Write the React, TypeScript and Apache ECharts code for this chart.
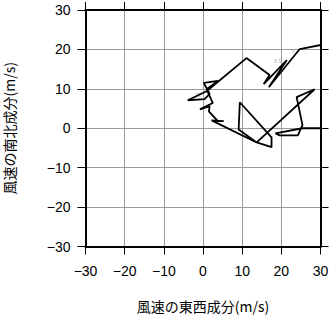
import React, { useEffect, useRef } from "react";
import * as echarts from "echarts";

// Hodograph: wind components (u = east-west, v = north-south), m/s
const uValues = [33.6, 24.7, 16.8, 21.4, 15.5, 17.0, 11.1, 0.9, -3.9, 0.4, 1.7, 0.2, 3.8, 0.9, 2.5, -0.8, 1.7, 1.5, 3.8, 5.3, 2.2, 13.7, 9.1, 9.4, 17.5, 17.5, 13.7, 28.5, 23.9, 25.4, 24.2, 19.6, 18.5, 25.4, 33.6];
const vValues = [21.8, 20.1, 10.4, 17.3, 11.2, 13.5, 17.8, 9.4, 7.1, 7.4, 8.7, 11.5, 12.0, 9.9, 6.4, 4.8, 5.6, 4.3, 1.8, 1.8, 2.0, -3.6, -0.3, 6.6, -2.3, -4.8, -3.6, 9.9, 7.9, 0.8, -1.8, -1.8, -1.3, 0.0, 0.0];

const heightLabels = ["8.5", "9", "20"];
const heightLabelU = [19.1, 23.1, -1.4];
const heightLabelV = [17.0, 19.6, 8.4];

const axisMin = -30;
const axisMax = 30;
const axisStep = 10;
const xName = "風速の東西成分(m/s)";
const yName = "風速の南北成分(m/s)";

const fmt = (v: number) => String(v).replace("-", "\u2212");

export default function App() {
  const ref = useRef<HTMLDivElement>(null);
  useEffect(() => {
    if (!ref.current) return;
    const chart = echarts.init(ref.current, undefined, { renderer: "svg" });
    const labelFont = "'Liberation Sans', Arial, sans-serif";
    const nameFont = "'Noto Sans CJK JP', 'Liberation Sans', sans-serif";
    const mainAxis = (isX: boolean) => ({
      type: "value" as const,
      min: axisMin,
      max: axisMax,
      interval: axisStep,
      position: isX ? "bottom" : "left",
      name: isX ? xName : yName,
      nameLocation: "middle" as const,
      nameGap: isX ? 52 : 70,
      nameRotate: isX ? 0 : 90,
      nameTextStyle: { fontFamily: nameFont, fontSize: 14, color: "#000" },
      axisLine: { show: true, onZero: false, lineStyle: { color: "#000", width: 2 } },
      axisTick: { show: true, inside: false, length: 8, lineStyle: { color: "#000", width: 1 } },
      axisLabel: {
        show: true,
        margin: isX ? 17 : 15,
        fontFamily: labelFont,
        fontSize: 14,
        color: "#000",
        formatter: (v: number) => fmt(v),
      },
      splitLine: { show: true, lineStyle: { color: "#9a9a9a", width: 1 } },
    });
    const mirrorAxis = (isX: boolean) => ({
      type: "value" as const,
      min: axisMin,
      max: axisMax,
      interval: axisStep,
      position: isX ? "top" : "right",
      axisLine: { show: true, onZero: false, lineStyle: { color: "#000", width: 2 } },
      axisTick: { show: true, inside: false, length: 8, lineStyle: { color: "#000", width: 1 } },
      axisLabel: { show: false },
      splitLine: { show: false },
    });
    chart.setOption({
      animation: false,
      backgroundColor: "#fff",
      grid: { left: 85.5, right: 10.5, top: 10, bottom: 71.5, containLabel: false, outerBoundsMode: "none" },
      xAxis: [mainAxis(true), mirrorAxis(true)],
      yAxis: [mainAxis(false), mirrorAxis(false)],
      series: [
        {
          type: "line",
          xAxisIndex: 0,
          yAxisIndex: 0,
          data: uValues.map((u, i) => [u, vValues[i]]),
          showSymbol: false,
          clip: true,
          lineStyle: { color: "#000", width: 1.8 },
          silent: true,
        },
        {
          type: "scatter",
          xAxisIndex: 0,
          yAxisIndex: 0,
          symbolSize: 0,
          data: heightLabels.map((t, i) => [heightLabelU[i], heightLabelV[i], t]),
          label: {
            show: true,
            position: "inside",
            formatter: (p: any) => p.value[2],
            fontSize: 5,
            color: "#999",
            fontFamily: labelFont,
          },
          silent: true,
        },
      ],
    });
    return () => chart.dispose();
  }, []);
  return <div ref={ref} style={{ width: 331, height: 318, position: "absolute", left: 0, top: 0 }} />;
}
